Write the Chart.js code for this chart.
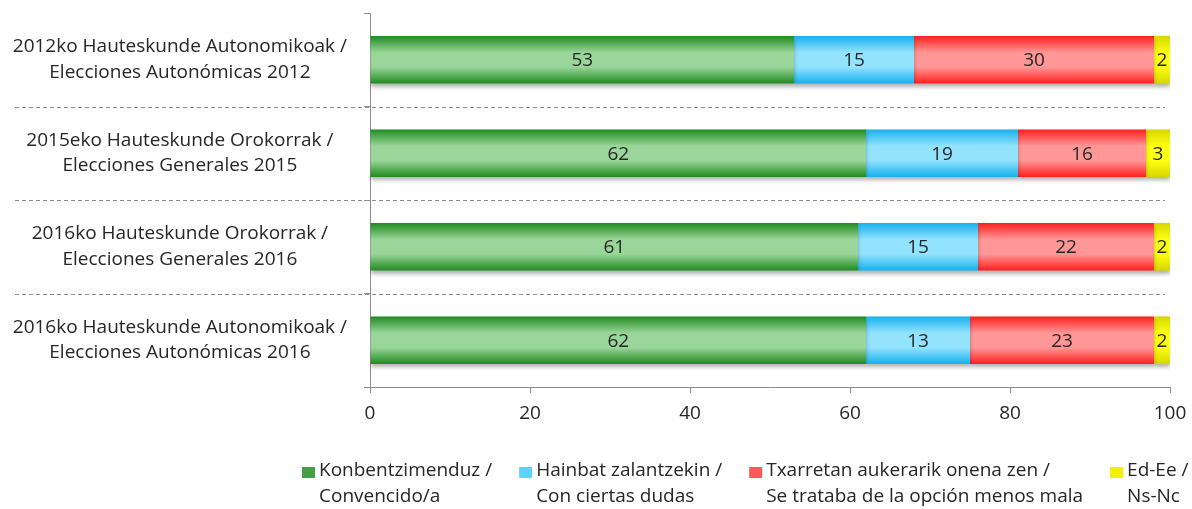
<!DOCTYPE html>
<html><head><meta charset="utf-8">
<script src="https://cdn.jsdelivr.net/npm/chart.js@4/dist/chart.umd.min.js"></script>
<style>html,body{margin:0;padding:0;background:#fff}#wrap{width:1192px;height:509px;position:relative}</style>
</head><body><div id="wrap"><canvas id="c" width="1192" height="509"></canvas></div>
<script>
const categories = [
  ["2012ko Hauteskunde Autonomikoak /", "Elecciones Autonómicas 2012"],
  ["2015eko Hauteskunde Orokorrak /", "Elecciones Generales 2015"],
  ["2016ko Hauteskunde Orokorrak /", "Elecciones Generales 2016"],
  ["2016ko Hauteskunde Autonomikoak /", "Elecciones Autonómicas 2016"]
];
const seriesNames = [
  ["Konbentzimenduz /", "Convencido/a"],
  ["Hainbat zalantzekin /", "Con ciertas dudas"],
  ["Txarretan aukerarik onena zen /", "Se trataba de la opción menos mala"],
  ["Ed-Ee /", "Ns-Nc"]
];
const convencido = [53, 62, 61, 62];
const dudas = [15, 19, 15, 13];
const menosMala = [30, 16, 22, 23];
const nsnc = [2, 3, 2, 2];
const xTicks = [0, 20, 40, 60, 80, 100];

const FONT = "'Open Sans', Lato, sans-serif";
const FSIZE = 19;
const BAR_PCT = 0.51;
const TEXT = '#262626';

const palettes = [
  {edge: '#1f8a1f', mid: '#9ad69a', legend: '#45a045'},
  {edge: '#16b0ee', mid: '#93e3ff', legend: '#5fd0ff'},
  {edge: '#ff1e1e', mid: '#ff9797', legend: '#ff5858'},
  {edge: '#d6d600', mid: '#ffff10', legend: '#f2f200'}
];

function gradFor(p) {
  return (ctx) => {
    const chart = ctx.chart;
    const ys = chart.scales && chart.scales.y;
    if (!ys || !chart.chartArea || ctx.dataIndex === undefined) return p.legend;
    const c = ys.getPixelForValue(ctx.dataIndex);
    const band = Math.abs(ys.getPixelForValue(1) - ys.getPixelForValue(0));
    const h = band * BAR_PCT / 2;
    const g = chart.ctx.createLinearGradient(0, c - h, 0, c + h);
    g.addColorStop(0, p.edge);
    g.addColorStop(0.35, p.mid);
    g.addColorStop(0.5, p.mid);
    g.addColorStop(0.65, p.mid);
    g.addColorStop(1, p.edge);
    return g;
  };
}

const seriesData = [convencido, dudas, menosMala, nsnc];

const datasets = seriesData.map((d, i) => ({
  label: seriesNames[i].join(' '),
  data: d,
  backgroundColor: gradFor(palettes[i]),
  borderWidth: 0,
  barPercentage: BAR_PCT,
  categoryPercentage: 1.0
}));

const decorations = {
  id: 'decorations',
  beforeDatasetsDraw(chart) {
    const ys = chart.scales.y, ctx = chart.ctx;
    ctx.save();
    ctx.strokeStyle = '#8c8c8c';
    ctx.lineWidth = 1;
    ctx.setLineDash([4, 3]);
    for (let i = 0; i < categories.length - 1; i++) {
      const y = Math.round((ys.getPixelForValue(i) + ys.getPixelForValue(i + 1)) / 2) + 0.5;
      ctx.beginPath();
      ctx.moveTo(15, y);
      ctx.lineTo(chart.chartArea.right - 5, y);
      ctx.stroke();
    }
    ctx.restore();
    ctx.save();
    ctx.shadowColor = 'rgba(0,0,0,0.30)';
    ctx.shadowBlur = 4;
    ctx.shadowOffsetY = 3;
  },
  afterDatasetsDraw(chart) {
    const ctx = chart.ctx;
    ctx.restore();
    ctx.save();
    ctx.font = FSIZE + "px " + FONT;
    ctx.fillStyle = TEXT;
    ctx.textAlign = 'center';
    ctx.textBaseline = 'middle';
    chart.data.datasets.forEach((ds, i) => {
      const meta = chart.getDatasetMeta(i);
      meta.data.forEach((bar, j) => {
        const cx = (bar.x + bar.base) / 2;
        ctx.fillText(String(ds.data[j]), cx, bar.y + 1);
      });
    });
    ctx.restore();
  },
  afterDraw(chart) {
    const ctx = chart.ctx;
    ctx.save();
    ctx.font = FSIZE + "px " + FONT;
    const boxW = 13, boxH = 11, textGap = 4, itemGap = 27;
    const widths = seriesNames.map(lines => boxW + textGap + Math.max(...lines.map(l => ctx.measureText(l).width)));
    let x = 302;
    const y1 = 471, y2 = 497;
    ctx.textBaseline = 'middle';
    ctx.textAlign = 'left';
    seriesNames.forEach((lines, i) => {
      ctx.fillStyle = palettes[i].legend;
      ctx.fillRect(x, y1 - 4, boxW, boxH);
      ctx.fillStyle = TEXT;
      ctx.fillText(lines[0], x + boxW + textGap, y1);
      ctx.fillText(lines[1], x + boxW + textGap, y2);
      x += widths[i] + itemGap;
    });
    ctx.restore();
  }
};

new Chart(document.getElementById('c'), {
  type: 'bar',
  data: { labels: categories, datasets },
  options: {
    indexAxis: 'y',
    responsive: false,
    devicePixelRatio: 1,
    animation: false,
    layout: { padding: { top: 13, right: 22, left: 0, bottom: 64 } },
    scales: {
      x: {
        stacked: true, min: 0, max: 100,
        afterBuildTicks: (s) => { s.ticks = xTicks.map(v => ({ value: v })); },
        ticks: { color: TEXT, font: { family: FONT, size: FSIZE }, padding: 9 },
        grid: { drawOnChartArea: false, drawTicks: true, tickLength: 6, color: '#8c8c8c' },
        border: { color: '#8c8c8c' },
        afterFit: (s) => { s.height = 58; s.paddingLeft = 0; s.paddingRight = 0; }
      },
      y: {
        stacked: true,
        ticks: { color: TEXT, font: { family: FONT, size: FSIZE, lineHeight: 1.35 }, crossAlign: 'center', padding: 17 },
        grid: { offset: true, drawOnChartArea: false, drawTicks: true, tickLength: 6, color: '#8c8c8c' },
        border: { color: '#8c8c8c' },
        afterFit: (s) => { s.width = 370; s.paddingTop = 0; s.paddingBottom = 0; }
      }
    },
    plugins: {
      tooltip: { enabled: false },
      legend: { display: false }
    }
  },
  plugins: [decorations]
});
</script></body></html>
